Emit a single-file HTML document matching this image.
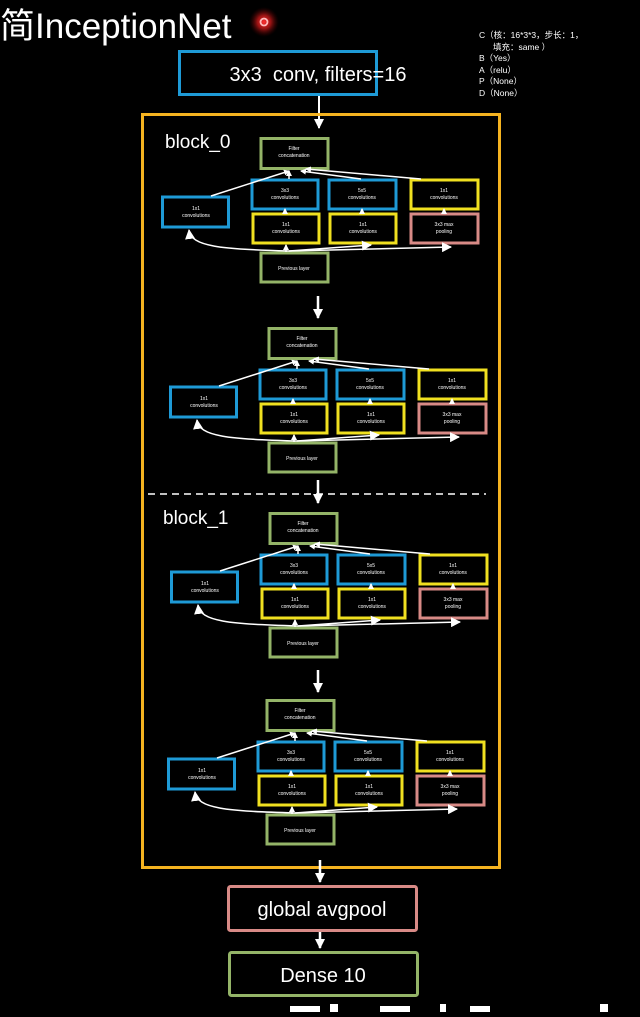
<!DOCTYPE html>
<html><head><meta charset="utf-8"><style>
html,body{margin:0;padding:0;background:#000;}
body{width:640px;height:1012px;overflow:hidden;position:relative;font-family:"Liberation Sans","Noto Sans CJK SC",sans-serif;}
svg text{font-family:"Liberation Sans","Noto Sans CJK SC",sans-serif;fill:#fff;}
</style></head><body>
<svg width="640" height="1012" viewBox="0 0 640 1012" xmlns="http://www.w3.org/2000/svg">
<defs>
<radialGradient id="glow"><stop offset="0" stop-color="#ff3030"/><stop offset="0.45" stop-color="#c01818" stop-opacity="0.8"/><stop offset="1" stop-color="#400" stop-opacity="0"/></radialGradient>
<marker id="ah" markerWidth="6" markerHeight="6" refX="5" refY="3" orient="auto" markerUnits="userSpaceOnUse"><path d="M0,0 L6,3 L0,6 z" fill="#fff"/></marker>
<marker id="ab" markerWidth="10" markerHeight="10" refX="9" refY="5" orient="auto" markerUnits="userSpaceOnUse"><path d="M0,0 L10,5 L0,10 z" fill="#fff"/></marker>
<g id="mod">
 <g fill="#000" stroke-width="3">
  <rect x="100" y="1.5" width="67" height="30" stroke="#94b468"/>
  <rect x="1.5" y="60" width="66" height="30" stroke="#1e9ad6"/>
  <rect x="91" y="43" width="66" height="29" stroke="#1e9ad6"/>
  <rect x="168" y="43" width="67" height="29" stroke="#1e9ad6"/>
  <rect x="250" y="43" width="67" height="29" stroke="#f0e020"/>
  <rect x="92" y="77" width="66" height="29" stroke="#f0e020"/>
  <rect x="169" y="77" width="66" height="29" stroke="#f0e020"/>
  <rect x="250" y="77" width="67" height="29" stroke="#d88a86"/>
  <rect x="100" y="116" width="67" height="29" stroke="#94b468"/>
 </g>
 <g font-size="5" text-anchor="middle">
  <text x="133" y="13">Filter</text><text x="133" y="20">concatenation</text>
  <text x="35" y="73">1x1</text><text x="35" y="80">convolutions</text>
  <text x="124" y="55">3x3</text><text x="124" y="62">convolutions</text>
  <text x="201" y="55">5x5</text><text x="201" y="62">convolutions</text>
  <text x="283" y="55">1x1</text><text x="283" y="62">convolutions</text>
  <text x="125" y="89">1x1</text><text x="125" y="96">convolutions</text>
  <text x="202" y="89">1x1</text><text x="202" y="96">convolutions</text>
  <text x="283" y="89">3x3 max</text><text x="283" y="96">pooling</text>
  <text x="133" y="133">Previous layer</text>
 </g>
 <g stroke="#fff" stroke-width="1.5" fill="none">
  <path d="M50 59 L128 34" marker-end="url(#ah)"/>
  <path d="M128 42 L128 34" marker-end="url(#ah)"/>
  <path d="M200 42 L140 34" marker-end="url(#ah)"/>
  <path d="M260 42 L145 32" marker-end="url(#ah)"/>
  <path d="M124 76 L124 72" marker-end="url(#ah)"/>
  <path d="M201 76 L201 72" marker-end="url(#ah)"/>
  <path d="M283 76 L283 72" marker-end="url(#ah)"/>
  <path d="M125 115 L125 108" marker-end="url(#ah)"/>
  <path d="M128 114 C60 112 30 110 28 93" marker-end="url(#ab)"/>
  <path d="M128 114 L210 108" marker-end="url(#ab)"/>
  <path d="M128 114 L290 110" marker-end="url(#ab)"/>
 </g>
</g>
</defs>

<circle cx="264" cy="22" r="15" fill="url(#glow)"/>
<circle cx="264" cy="22" r="3.5" fill="none" stroke="#ffbbbb" stroke-width="1.8"/>
<text x="0" y="38" font-size="35">简InceptionNet</text>
<g font-size="8.5">
<text x="479" y="38">C（核：16*3*3，步长：1，</text>
<text x="493" y="50">填充：same ）</text>
<text x="479" y="61">B（Yes）</text>
<text x="479" y="73">A（relu）</text>
<text x="479" y="84">P（None）</text>
<text x="479" y="96">D（None）</text>
</g>

<rect x="179.5" y="51.5" width="197" height="43" fill="#000" stroke="#1e9ad6" stroke-width="3"/>
<text x="318" y="81" font-size="20" text-anchor="middle">3x3&#160;&#160;conv, filters=16</text>
<path d="M319 96 L319 128" stroke="#fff" stroke-width="2" marker-end="url(#ab)"/>

<rect x="142.5" y="114.5" width="357" height="753" fill="none" stroke="#f5b320" stroke-width="3"/>
<text x="165" y="148" font-size="19">block_0</text>
<text x="163" y="524" font-size="19">block_1</text>
<line x1="148" y1="494" x2="486" y2="494" stroke="#fff" stroke-width="1.5" stroke-dasharray="7,5"/>

<use href="#mod" transform="translate(161,137)"/>
<use href="#mod" transform="translate(169,327)"/>
<use href="#mod" transform="translate(170,512)"/>
<use href="#mod" transform="translate(167,699)"/>

<g stroke="#fff" stroke-width="2.5">
<path d="M318 296 L318 318" marker-end="url(#ab)"/>
<path d="M318 480 L318 503" marker-end="url(#ab)"/>
<path d="M318 670 L318 692" marker-end="url(#ab)"/>
<path d="M320 860 L320 882" marker-end="url(#ab)"/>
<path d="M320 932 L320 948" marker-end="url(#ab)"/>
</g>

<rect x="228.5" y="886.5" width="188" height="44" rx="2" fill="#000" stroke="#d88a86" stroke-width="3"/>
<text x="322" y="916" font-size="20" text-anchor="middle">global avgpool</text>
<rect x="229.5" y="952.5" width="188" height="43" rx="2" fill="#000" stroke="#94b468" stroke-width="3"/>
<text x="323" y="982" font-size="20" text-anchor="middle">Dense 10</text>
<g fill="#fff"><rect x="290" y="1006" width="30" height="6"/><rect x="330" y="1004" width="8" height="8"/><rect x="380" y="1006" width="30" height="6"/><rect x="440" y="1004" width="6" height="8"/><rect x="470" y="1006" width="20" height="6"/><rect x="600" y="1004" width="8" height="8"/></g>
</svg>
</body></html>
